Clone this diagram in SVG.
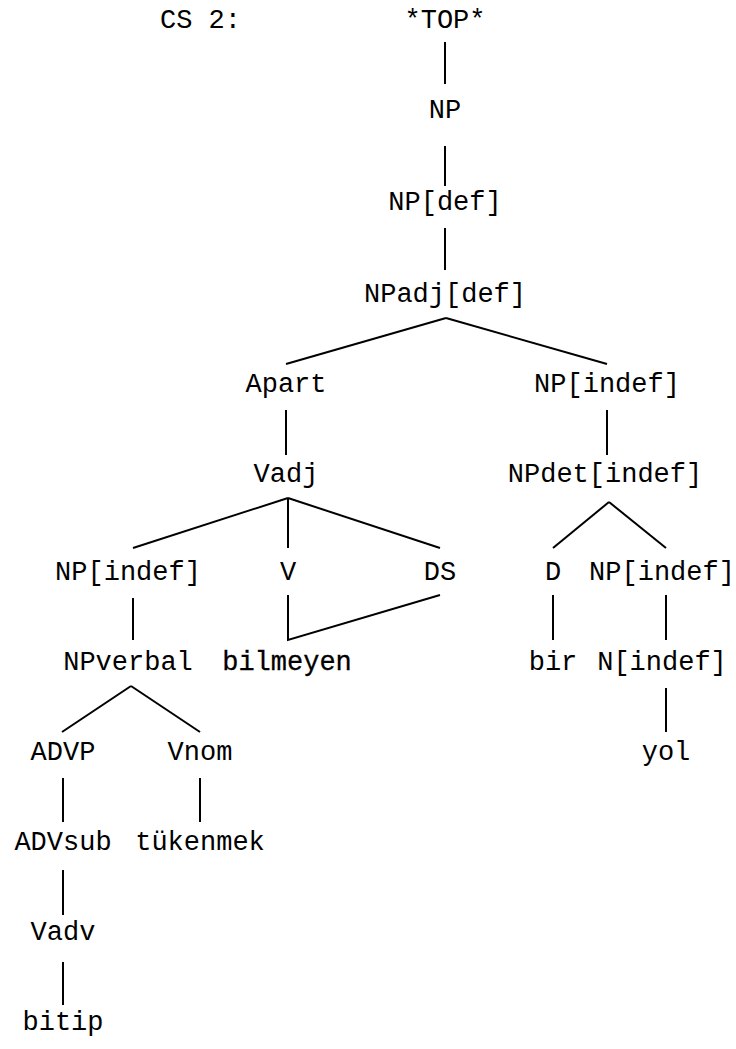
<svg xmlns="http://www.w3.org/2000/svg" width="736" height="1049" viewBox="0 0 736 1049">
<style>
text{font-family:"Liberation Mono","Courier New",monospace;font-size:27px;fill:#000;text-anchor:middle}
.b{stroke:#000;stroke-width:0.3}
#edges line,#edges polyline{stroke:#000;stroke-width:2;fill:none}
</style>
<rect width="736" height="1049" fill="#fff"/>
<text x="160" y="28" style="text-anchor:start">CS 2:</text>
<g id="edges">
<line x1="445" y1="42" x2="445" y2="84"/>
<line x1="445" y1="146" x2="445" y2="186"/>
<line x1="445" y1="228" x2="445" y2="270"/>
<line x1="446" y1="318" x2="286" y2="364"/>
<line x1="446" y1="318" x2="607" y2="364"/>
<line x1="286" y1="410" x2="286" y2="455"/>
<line x1="607" y1="410" x2="607" y2="455"/>
<line x1="288" y1="498" x2="133" y2="548"/>
<line x1="288" y1="498" x2="288" y2="548"/>
<line x1="288" y1="498" x2="440" y2="548"/>
<line x1="609" y1="502" x2="553" y2="548"/>
<line x1="609" y1="502" x2="666" y2="548"/>
<line x1="133" y1="598" x2="133" y2="640"/>
<polyline points="288,595 288,640 440,595"/>
<line x1="553" y1="595" x2="553" y2="640"/>
<line x1="666" y1="595" x2="666" y2="640"/>
<line x1="131" y1="686" x2="62" y2="732"/>
<line x1="131" y1="686" x2="200" y2="732"/>
<line x1="666" y1="688" x2="666" y2="732"/>
<line x1="63" y1="778" x2="63" y2="822"/>
<line x1="200" y1="778" x2="200" y2="822"/>
<line x1="63" y1="870" x2="63" y2="915"/>
<line x1="63" y1="962" x2="63" y2="1005"/>
</g>
<g id="n-top"><text x="445" y="28">*TOP*</text></g>
<g id="n-np"><text x="445" y="118">NP</text></g>
<g id="n-npdef"><text x="445" y="210">NP[def]</text></g>
<g id="n-npadj"><text x="445" y="302">NPadj[def]</text></g>
<g id="n-apart"><text x="286" y="392">Apart</text></g>
<g id="n-npindef1"><text x="607" y="392">NP[indef]</text></g>
<g id="n-vadj"><text x="286" y="482">Vadj</text></g>
<g id="n-npdet"><text x="605" y="482">NPdet[indef]</text></g>
<g id="n-npindef2"><text x="128" y="580">NP[indef]</text></g>
<g id="n-v"><text x="288" y="580">V</text></g>
<g id="n-ds"><text x="440" y="580">DS</text></g>
<g id="n-d"><text x="553" y="580">D</text></g>
<g id="n-npindef3"><text x="662" y="580">NP[indef]</text></g>
<g id="n-npverbal"><text x="128" y="670">NPverbal</text></g>
<g id="n-bilmeyen"><text class="b" x="287" y="670">bilmeyen</text></g>
<g id="n-bir"><text x="553" y="670">bir</text></g>
<g id="n-nindef"><text x="662" y="670">N[indef]</text></g>
<g id="n-advp"><text x="63" y="760">ADVP</text></g>
<g id="n-vnom"><text x="200" y="760">Vnom</text></g>
<g id="n-yol"><text x="666" y="760">yol</text></g>
<g id="n-advsub"><text x="63" y="850">ADVsub</text></g>
<g id="n-tukenmek"><text x="200" y="850">tükenmek</text></g>
<g id="n-vadv"><text x="63" y="940">Vadv</text></g>
<g id="n-bitip"><text x="63" y="1030">bitip</text></g>
</svg>
